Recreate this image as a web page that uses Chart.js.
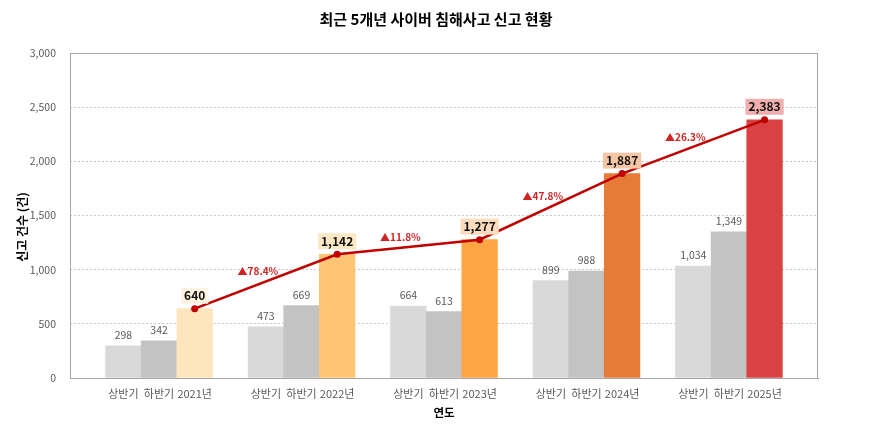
<!DOCTYPE html>
<html>
<head>
<meta charset="utf-8">
<script src="https://cdn.jsdelivr.net/npm/chart.js@4/dist/chart.umd.min.js"></script>
<style>
  html, body { margin: 0; padding: 0; background: #fff; }
  #wrap { width: 870px; height: 435px; }
</style>
</head>
<body>
<div id="wrap"><canvas id="c"></canvas></div>
<script>
// data
const years = ['2021년', '2022년', '2023년', '2024년', '2025년'];
const firstHalf = [298, 473, 664, 899, 1034];
const secondHalf = [342, 669, 613, 988, 1349];
const totals = [640, 1142, 1277, 1887, 2383];
const growth = ['78.4%', '11.8%', '47.8%', '26.3%'];
const halfNames = ['상반기', '하반기'];

// styles
const FONT = "'Noto Sans CJK KR', 'Noto Sans', sans-serif";
const halfColors = ['#d9d9d9', '#c3c3c3'];
const totalColors = ['#fde5bd', '#fec574', '#fda444', '#e57b36', '#d94142'];
const totalLabelBg = ['#fef3e0', '#fde8c6', '#fcdcbc', '#f6c5a5', '#f0aeae'];
const lineColor = '#c00000';

// one slot per bar, an empty slot at both ends and between years
const slots = [''];
const barValues = [null];
const barColors = ['#fff'];
const lineValues = [null];
const kinds = [null];
years.forEach((y, i) => {
  slots.push(halfNames[0], halfNames[1], y, '');
  barValues.push(firstHalf[i], secondHalf[i], totals[i], null);
  barColors.push(halfColors[0], halfColors[1], totalColors[i], '#fff');
  lineValues.push(null, null, totals[i], null);
  kinds.push('half', 'half', i, null);
});

const labelPlugin = {
  id: 'labels',
  afterDatasetsDraw(chart) {
    const ctx = chart.ctx;
    const bars = chart.getDatasetMeta(1).data;
    const pts = chart.getDatasetMeta(0).data;
    ctx.save();
    ctx.textAlign = 'center';
    ctx.textBaseline = 'middle';
    bars.forEach((b, k) => {
      const kind = kinds[k];
      if (kind === null) return;
      const v = barValues[k];
      const txt = v.toLocaleString('en-US');
      if (kind === 'half') {
        ctx.font = '10.5px ' + FONT;
        ctx.fillStyle = '#595959';
        ctx.fillText(txt, b.x, b.y - 11);
      } else {
        ctx.font = 'bold 12px ' + FONT;
        const w = ctx.measureText(txt).width + 6;
        ctx.fillStyle = totalLabelBg[kind];
        ctx.fillRect(b.x - w / 2, b.y - 21, w, 16);
        ctx.fillStyle = '#111';
        ctx.fillText(txt, b.x, b.y - 13);
      }
    });
    // growth between consecutive totals
    const tp = pts.filter((p, k) => lineValues[k] !== null);
    ctx.font = 'bold 10px ' + FONT;
    ctx.fillStyle = '#d02424';
    growth.forEach((g, i) => {
      const a = tp[i], b = tp[i + 1];
      const x = (a.x + b.x) / 2 - 8;
      const y = (a.y + b.y) / 2 - 10;
      ctx.fillText('▲' + g, x, y);
    });
    ctx.restore();
  },
  afterDraw(chart) {
    const ctx = chart.ctx;
    const a = chart.chartArea;
    ctx.save();
    ctx.strokeStyle = '#a6a6a6';
    ctx.lineWidth = 1;
    ctx.strokeRect(a.left + 0.5, a.top + 0.5, a.right - a.left - 1, a.bottom - a.top);
    ctx.fillStyle = '#000';
    ctx.textAlign = 'center';
    ctx.textBaseline = 'middle';
    ctx.font = 'bold 15px ' + FONT;
    ctx.fillText('최근 5개년 사이버 침해사고 신고 현황', 436, 19);
    ctx.font = 'bold 11.5px ' + FONT;
    ctx.fillText('연도', (a.left + a.right) / 2, 413);
    ctx.translate(22, 227);
    ctx.rotate(-Math.PI / 2);
    ctx.font = 'bold 12px ' + FONT;
    ctx.fillText('신고 건수 (건)', 0, 0);
    ctx.restore();
  }
};

new Chart(document.getElementById('c'), {
  data: {
    labels: slots,
    datasets: [
      {
        type: 'line',
        data: lineValues,
        borderColor: lineColor,
        backgroundColor: lineColor,
        borderWidth: 2.5,
        pointRadius: 3.5,
        pointBackgroundColor: lineColor,
        pointBorderWidth: 0,
        spanGaps: true,
        tension: 0,
        order: 0
      },
      {
        type: 'bar',
        data: barValues,
        backgroundColor: barColors,
        barPercentage: 1,
        categoryPercentage: 1,
        order: 1
      }
    ]
  },
  options: {
    responsive: true,
    maintainAspectRatio: false,
    animation: false,
    layout: { padding: { top: 53, right: 52, left: 0, bottom: 0 } },
    plugins: { legend: { display: false }, tooltip: { enabled: false }, title: { display: false } },
    scales: {
      x: {
        grid: { display: false, tickLength: 0 },
        border: { color: '#8c8c8c', width: 1 },
        ticks: {
          autoSkip: false, maxRotation: 0, padding: 9,
          color: '#595959', font: { family: FONT, size: 11 }
        },
        afterFit(s) { s.height = 57; }
      },
      y: {
        min: 0, max: 3000,
        grid: { color: '#c8c8c8', tickLength: 0, lineWidth: 1 },
        border: { display: false, dash: [2, 2] },
        ticks: {
          stepSize: 500, padding: 14,
          color: '#595959', font: { family: FONT, size: 10.5 },
          callback: v => v.toLocaleString('en-US')
        },
        afterFit(s) { s.width = 70; }
      }
    }
  },
  plugins: [labelPlugin]
});
</script>
</body>
</html>
